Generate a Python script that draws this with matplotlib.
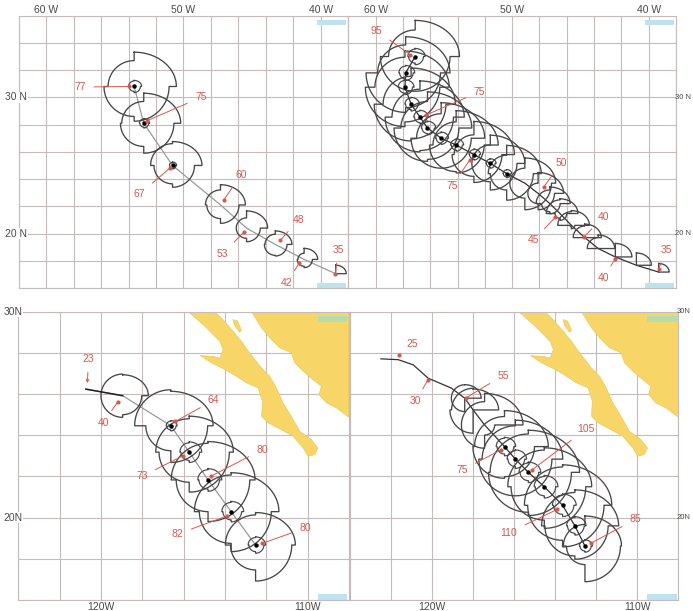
"""Forecast wind radii along two storm tracks, four map panels."""

import matplotlib
matplotlib.use("Agg")
import matplotlib.pyplot as plt
from matplotlib.patches import Polygon, Rectangle
import numpy as np

RED    = "#d8574f"
GRID   = "#c4bcba"
RING   = "#474747"
LAND   = "#f7d667"
TEXT   = "#4a4a4a"
CORNER = "#bfe3ee"

W, H = 693, 611

plt.rcParams.update({
    "font.family": "Liberation Sans",
    "font.size": 7.5,
})

# ── top left: Atlantic storm, first forecast ─────────────────────────────────
tl_lon = [-38.9, -41.2, -43.3, -45.4, -47.3, -50.8, -52.9, -53.6]
tl_lat = [17.05, 18.1, 19.2, 20.4, 22.1, 25.0, 28.1, 30.8]
tl_ne = [0.7, 0.9, 1.1, 1.4, 1.65, 1.95, 2.45, 2.8]
tl_se = [0, 0.6, 0.85, 1.0, 1.35, 1.6, 2.2, 2.55]
tl_sw = [0, 0.5, 0.8, 0.75, 1.0, 1.35, 1.7, 2.2]
tl_nw = [0, 0.45, 0.75, 0.75, 1.1, 1.6, 1.6, 1.9]
tl_inner = [0, 0, 0, 0, 0, 0.25, 0.35, 0.45]
tl_labels = ["77", "75", "67", "60", "53", "48", "42", "35"]
tl_dot_lon = [-53.98, -52.63, -51.0, -47.07, -45.6, -42.93, -41.54, -38.93]
tl_dot_lat = [30.8, 28.3, 24.8, 22.46, 20.1, 19.5, 17.86, 17.05]
tl_text_lon = [-57.56, -48.73, -53.2, -45.8, -47.15, -41.6, -42.46, -38.7]
tl_text_lat = [30.76, 30.0, 22.9, 24.3, 18.5, 21.03, 16.36, 18.8]

# ── top right: Atlantic storm, second forecast ───────────────────────────────
tr_lon = [-39.27, -40.9, -42.44, -43.7, -44.68, -45.66, -46.5, -47.24, -48.1, -49.07, -50.4,
          -51.6, -52.8, -54.1, -55.2, -56.2, -56.75, -57.4, -57.85, -57.8, -57.1]
tr_lat = [17.17, 17.67, 18.28, 18.9, 19.7, 20.6, 21.47, 22.2, 22.95, 23.7, 24.4,
          25.15, 25.8, 26.5, 27.0, 27.75, 28.55, 29.5, 30.75, 31.8, 33.0]
tr_ne = [0.7, 1.0, 1.1, 1.1, 1.1, 1.2, 1.2, 1.35, 1.7, 2.05, 2.3,
         2.3, 2.7, 2.8, 2.9, 2.95, 2.95, 2.95, 2.95, 2.95, 2.95]
tr_se = [0, 0, 0, 0, 0, 0.25, 0.5, 0.75, 1.2, 1.95, 1.95,
         1.95, 2.05, 2.05, 2.2, 2.3, 2.45, 2.55, 2.55, 2.55, 2.55]
tr_sw = [0, 0, 0, 0, 0, 0.1, 0.35, 0.6, 0.75, 1.1, 1.2,
         1.35, 1.6, 1.95, 2.2, 2.45, 2.55, 2.7, 2.9, 2.9, 2.55]
tr_nw = [0, 0, 0, 0.8, 0.85, 1.0, 1.0, 1.0, 0.75, 1.1, 1.35,
         1.35, 1.45, 1.7, 1.8, 1.95, 2.05, 2.05, 2.2, 2.05, 1.95]
tr_inner = [0, 0, 0, 0, 0, 0, 0, 0, 0, 0, 0.3,
            0.35, 0.4, 0.45, 0.45, 0.5, 0.5, 0.5, 0.55, 0.55, 0.6]
tr_labels = ["95", "75", "75", "50", "45", "40", "40", "35"]
tr_dot_lon = [-57.49, -56.32, -53.1, -47.7, -46.83, -44.76, -42.44, -39.27]
tr_dot_lat = [33.15, 28.7, 25.4, 23.4, 21.2, 19.75, 18.15, 17.4]
tr_text_lon = [-59.93, -52.4, -54.4, -46.4, -48.46, -43.3, -43.34, -38.7]
tr_text_lat = [34.9, 30.4, 23.5, 25.2, 19.5, 21.2, 16.7, 18.8]

# ── bottom left: Pacific storm, first forecast ───────────────────────────────
bl_lon = [-120.73, -118.95, -116.62, -115.73, -114.82, -113.7, -112.52]
bl_lat = [26.24, 25.92, 24.46, 23.18, 21.83, 20.29, 18.67]
bl_ne = [0, 1.13, 1.86, 1.94, 2.07, 2.1, 1.75]
bl_se = [0, 0.92, 1.78, 1.94, 2.02, 1.94, 1.75]
bl_sw = [0, 1.05, 1.21, 1.46, 1.54, 1.54, 1.21]
bl_nw = [0, 1.05, 1.75, 1.62, 1.78, 1.78, 1.46]
bl_inner = [0, 0, 0.25, 0.5, 0.55, 0.5, 0.4]
bl_labels = ["23", "40", "64", "73", "80", "82", "80"]
bl_dot_lon = [-120.66, -119.2, -116.4, -116.04, -114.7, -113.9, -112.2]
bl_dot_lat = [26.53, 25.6, 24.67, 23.0, 22.0, 20.08, 18.75]
bl_text_lon = [-120.6, -119.9, -114.55, -118.03, -112.2, -116.3, -110.1]
bl_text_lat = [27.7, 24.6, 25.7, 22.0, 23.3, 19.2, 19.5]

# ── bottom right: Pacific storm, second forecast ─────────────────────────────
br_lon = [-122.49, -121.65, -120.92, -120.19, -119.06, -118.41, -118.0, -117.44,
          -116.47, -115.94, -115.31, -114.53, -113.64, -113.04, -112.55]
br_lat = [27.71, 27.67, 27.42, 26.77, 26.29, 25.8, 25.23, 24.5,
          23.45, 22.84, 22.2, 21.5, 20.6, 19.6, 18.62]
br_ne = [0, 0, 0, 0, 0, 0.73, 1.13, 1.7, 1.94, 2.1, 2.27, 2.1, 2.18, 1.94, 1.62]
br_se = [0, 0, 0, 0, 0, 0, 0, 0.49, 1.46, 1.78, 2.1, 2.02, 2.02, 1.62, 1.73]
br_sw = [0, 0, 0, 0, 0, 0.65, 1.13, 1.13, 1.54, 1.78, 1.94, 1.62, 1.7, 1.46, 0.9]
br_nw = [0, 0, 0, 0, 0, 0.65, 1.05, 1.13, 1.46, 1.62, 1.86, 1.78, 1.86, 1.62, 1.05]
br_inner = [0, 0, 0, 0, 0, 0, 0, 0, 0.45, 0.45, 0.5, 0.55, 0.55, 0.45, 0.3]
br_labels = ["25", "30", "55", "75", "105", "110", "85"]
br_dot_lon = [-121.6, -120.2, -118.37, -116.63, -115.15, -113.9, -112.27]
br_dot_lat = [27.88, 26.7, 25.8, 23.3, 22.3, 20.4, 18.75]
br_text_lon = [-120.97, -120.8, -116.55, -118.54, -112.5, -116.26, -110.08]
br_text_lat = [28.43, 25.64, 26.9, 22.3, 24.3, 19.27, 19.92]

# ── coastline, Baja California and the mainland ──────────────────────────────
baja_lon = [-115.78, -114.49, -114.09, -113.6, -113.2, -112.8, -112.23, -111.83, -111.51, -111.19,
            -110.79, -110.38, -109.82, -109.5, -109.66, -109.98, -110.22, -110.7, -111.43, -111.91,
            -112.23, -112.19, -112.4, -112.96, -113.44, -114.0, -114.65, -115.21, -114.57, -114.25,
            -114.09, -114.25, -114.97]
baja_lat = [30.0, 30.0, 29.61, 29.05, 28.56, 27.99, 27.27, 26.86, 26.3, 25.57,
            24.92, 24.19, 23.79, 23.38, 23.06, 22.98, 23.38, 23.95, 24.35, 24.6,
            24.92, 25.65, 26.3, 26.54, 26.86, 27.19, 27.51, 27.87, 27.83, 27.75,
            28.16, 28.56, 29.29]
main_lon = [-112.72, -108.0, -108.0, -108.61, -109.09, -109.45, -109.34, -109.74, -110.22, -110.62,
            -110.79, -111.35, -111.83, -112.23]
main_lat = [30.0, 30.0, 24.87, 25.33, 25.57, 25.97, 26.38, 26.7, 27.11, 27.51,
            28.0, 28.24, 28.72, 29.21]
isle_lon = [-113.62, -113.4, -113.2, -113.3, -113.55]
isle_lat = [29.62, 29.55, 29.1, 29.0, 29.35]


def wind_ring(lon, lat, ne, se, sw, nw):
    # quadrant radii, clockwise from north; the radius steps at each compass point
    xs, ys = [], []
    for r, a0, kx, ky in zip([ne, se, sw, nw], [90, 0, -90, -180],
                             [1.1, 1, 1, 1], [0.9, 1, 1, 1]):
        t = np.radians(np.linspace(a0, a0 - 90, 24))
        xs.extend(lon + kx * r * np.cos(t))
        ys.extend(lat + ky * r * np.sin(t))
    xs.append(xs[0])
    ys.append(ys[0])
    return xs, ys


def make_axes(left, right, top, bottom, xlim, ylim):
    ax = fig.add_axes([left / W, 1 - bottom / H, (right - left) / W, (bottom - top) / H])
    ax.set_xlim(*xlim)
    ax.set_ylim(*ylim)
    ax.set_xticks(np.arange(xlim[0], xlim[1] + 0.1, 2))
    ax.set_yticks(np.arange(ylim[0], ylim[1] + 0.1, 2))
    ax.set_xticklabels([])
    ax.set_yticklabels([])
    ax.tick_params(length=0)
    ax.grid(True, color=GRID, lw=0.8)
    ax.set_axisbelow(True)
    for s in ax.spines.values():
        s.set_color(GRID)
        s.set_linewidth(0.8)
    return ax


def draw_storm(ax, lon, lat, ne, se, sw, nw, inner, track_color):
    ax.plot(lon, lat, color=track_color, lw=0.9, zorder=3)
    for i in range(len(lon)):
        if ne[i] + se[i] + sw[i] + nw[i] > 0:
            xs, ys = wind_ring(lon[i], lat[i], ne[i], se[i], sw[i], nw[i])
            ax.plot(xs, ys, color=RING, lw=0.95, zorder=4)
        if inner[i] > 0:
            xs, ys = wind_ring(lon[i], lat[i], inner[i] * 1.1, inner[i], inner[i] * 0.8, inner[i] * 0.9)
            ax.plot(xs, ys, color=RING, lw=0.85, zorder=4)
            ax.plot(lon[i], lat[i], "o", color="black", ms=2.2, zorder=6)


def draw_labels(ax, labels, dot_lon, dot_lat, text_lon, text_lat):
    for i, lab in enumerate(labels):
        style = "->" if lab == "23" else "-"
        ax.annotate(lab, xy=(dot_lon[i], dot_lat[i]), xytext=(text_lon[i], text_lat[i]),
                    color=RED, fontsize=7.5, ha="center", va="center", zorder=7,
                    arrowprops=dict(arrowstyle=style, color=RED, lw=0.7,
                                    shrinkA=4, shrinkB=0, mutation_scale=5))
        if lab != "23":
            ax.plot(dot_lon[i], dot_lat[i], "o", color=RED, ms=2, zorder=7)


def draw_land(ax):
    for lon, lat in [(baja_lon, baja_lat), (main_lon, main_lat), (isle_lon, isle_lat)]:
        ax.add_patch(Polygon(np.column_stack([lon, lat]), fc=LAND, ec="#e6c65a", lw=0.4, zorder=1))


def corners(ax, top_color):
    for y0, c in [(0.965, top_color), (0.0, CORNER)]:
        ax.add_patch(Rectangle((0.905, y0), 0.09, 0.02, transform=ax.transAxes,
                               fc=c, ec="none", zorder=2))


fig = plt.figure(figsize=(W / 100, H / 100), dpi=100)

# top panels: 2 degree grid, 60W to 40W
ax1 = make_axes(19, 348, 15.7, 288, (-62, -38), (16, 36))
ax2 = make_axes(348.3, 676, 15.7, 288, (-62, -38), (16, 36))
# bottom panels
ax3 = make_axes(18.3, 349, 311.7, 600, (-124, -108), (16, 30))
ax4 = make_axes(350, 678.3, 311.7, 600, (-124, -108), (16, 30))

draw_land(ax3)
draw_land(ax4)
for ax, c in [(ax1, CORNER), (ax2, CORNER), (ax3, "#b5dcae"), (ax4, "#b5dcae")]:
    corners(ax, c)

draw_storm(ax1, tl_lon, tl_lat, tl_ne, tl_se, tl_sw, tl_nw, tl_inner, "#9a9a9a")
draw_storm(ax2, tr_lon, tr_lat, tr_ne, tr_se, tr_sw, tr_nw, tr_inner, "#333333")
draw_storm(ax3, bl_lon, bl_lat, bl_ne, bl_se, bl_sw, bl_nw, bl_inner, "#9a9a9a")
draw_storm(ax4, br_lon, br_lat, br_ne, br_se, br_sw, br_nw, br_inner, "#333333")
ax3.plot(bl_lon[:2], bl_lat[:2], color="#222222", lw=1.1, zorder=5)

draw_labels(ax1, tl_labels, tl_dot_lon, tl_dot_lat, tl_text_lon, tl_text_lat)
draw_labels(ax2, tr_labels, tr_dot_lon, tr_dot_lat, tr_text_lon, tr_text_lat)
draw_labels(ax3, bl_labels, bl_dot_lon, bl_dot_lat, bl_text_lon, bl_text_lat)
draw_labels(ax4, br_labels, br_dot_lon, br_dot_lat, br_text_lon, br_text_lat)

# degree labels sit outside the frame; the left ones run just over it
for ax in (ax1, ax2):
    for lon_val, lab in zip([-60, -50, -40], ["60 W", "50 W", "40 W"]):
        ax.text(lon_val, 36.45, lab, color=TEXT, ha="center", va="center", clip_on=False)
for lat_val, lab in zip([30, 20], ["30 N", "20 N"]):
    ax1.text(-61.4, lat_val, lab, color=TEXT, ha="right", va="center", clip_on=False,
             bbox=dict(fc="white", ec="none", pad=0.5), zorder=8)
    ax2.text(-36.9, lat_val, lab, color=TEXT, fontsize=5.5, ha="right", va="center", clip_on=False)
for ax in (ax3, ax4):
    for lon_val, lab in zip([-120, -110], ["120W", "110W"]):
        ax.text(lon_val, 15.65, lab, color=TEXT, ha="center", va="center", clip_on=False)
for lat_val, lab in zip([30, 20], ["30N", "20N"]):
    ax3.text(-123.8, lat_val, lab, color=TEXT, ha="right", va="center", clip_on=False,
             bbox=dict(fc="white", ec="none", pad=0.5), zorder=8)
    ax4.text(-107.42, lat_val, lab, color=TEXT, fontsize=5.5, ha="right", va="center", clip_on=False)

fig.savefig("out.png", dpi=100)
plt.close(fig)
